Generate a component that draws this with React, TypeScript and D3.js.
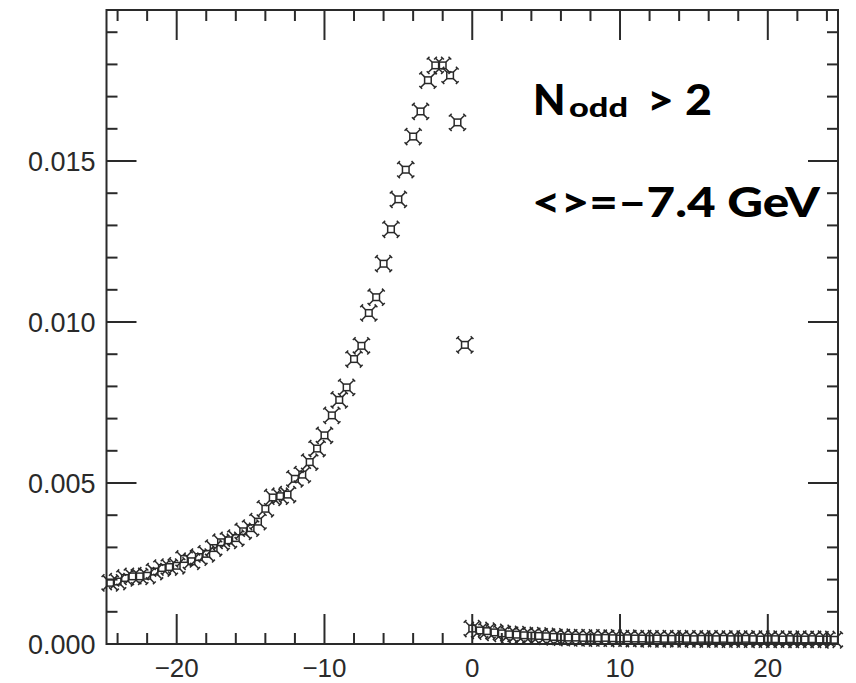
import React from "react";
import * as d3 from "d3";

// bin centres (GeV) and contents
const xLeft = [
  -24.5, -24, -23.5, -23, -22.5, -22, -21.5, -21, -20.5, -20,
  -19.5, -19, -18.5, -18, -17.5, -17, -16.5, -16, -15.5, -15,
  -14.5, -14, -13.5, -13, -12.5, -12, -11.5, -11, -10.5, -10,
  -9.5, -9, -8.5, -8, -7.5, -7, -6.5, -6, -5.5, -5,
  -4.5, -4, -3.5, -3, -2.5, -2, -1.5, -1, -0.5,
];
const yLeft = [
  0.0019, 0.00194, 0.00205, 0.0021, 0.0021, 0.00212, 0.00225, 0.00236, 0.00239, 0.00243,
  0.00264, 0.00257, 0.0027, 0.0028, 0.00298, 0.00316, 0.00322, 0.00329, 0.0035, 0.0036,
  0.0038, 0.0042, 0.00455, 0.00459, 0.00464, 0.00513, 0.00526, 0.00565, 0.00607, 0.00648,
  0.0071, 0.00758, 0.00797, 0.00885, 0.00926, 0.01028, 0.01077, 0.01181, 0.01288, 0.01381,
  0.01473, 0.01576, 0.01654, 0.01751, 0.01797, 0.01797, 0.01766, 0.0162, 0.00929,
];
const xRight = [
  0, 0.5, 1, 1.5, 2, 2.5, 3, 3.5, 4, 4.5, 5, 5.5, 6, 6.5, 7, 7.5, 8, 8.5, 9, 9.5,
  10, 10.5, 11, 11.5, 12, 12.5, 13, 13.5, 14, 14.5, 15, 15.5, 16, 16.5, 17, 17.5,
  18, 18.5, 19, 19.5, 20, 20.5, 21, 21.5, 22, 22.5, 23, 23.5, 24, 24.5,
];
const yRight = [
  0.00048, 0.00042, 0.0004, 0.00036, 0.00033, 0.0003, 0.00029, 0.00027, 0.00026, 0.00025,
  0.00024, 0.00022, 0.00021, 0.0002, 0.0002, 0.00019, 0.00019, 0.00018, 0.00019, 0.00018,
  0.00017, 0.00018, 0.00017, 0.00017, 0.00016, 0.00017, 0.00016, 0.00016, 0.00017, 0.00016,
  0.00015, 0.00016, 0.00016, 0.00015, 0.00016, 0.00015, 0.00015, 0.00016, 0.00015, 0.00014,
  0.00015, 0.00015, 0.00014, 0.00015, 0.00014, 0.00014, 0.00015, 0.00014, 0.00014, 0.00013,
];

const xMajor = [-20, -10, 0, 10, 20];
const xMinor = d3.range(-24, 25, 2).filter((v) => v % 10 !== 0);
const yMajor = [0, 0.005, 0.01, 0.015];
const yMinor = d3.range(1, 20).filter((v) => v % 5 !== 0).map((v) => v / 1000);

const W = 856;
const H = 683;
const margin = { top: 10, right: 18, bottom: 39, left: 106.5 };

export default function App() {
  const w = W - margin.left - margin.right;
  const h = H - margin.top - margin.bottom;
  const x = d3.scaleLinear().domain([-24.75, 24.75]).range([0, w]);
  const y = d3.scaleLinear().domain([0, 0.01969]).range([h, 0]);
  const fmt = d3.format(".3f");
  const ink = "#2a2a2a";

  const points = xLeft
    .map((v, i) => [v, yLeft[i]])
    .concat(xRight.map((v, i) => [v, yRight[i]]));

  const marker = (px: number, py: number, i: number) => {
    const s = 3.3, e = 7.2, c = 1.4;
    const spikes = [[1, 1], [1, -1], [-1, 1], [-1, -1]];
    return (
      <g key={i} transform={`translate(${px},${py})`} stroke={ink} strokeWidth={1.5} fill="none">
        <rect x={-s} y={-s} width={2 * s} height={2 * s} />
        {spikes.map(([a, b], j) => (
          <g key={j}>
            <line x1={a * s} y1={b * s} x2={a * e} y2={b * e} />
            <line x1={a * e - c * a} y1={b * e + c * b} x2={a * e + c * a} y2={b * e - c * b} />
          </g>
        ))}
      </g>
    );
  };

  return (
    <svg width={W} height={H} style={{ position: "absolute", left: 0, top: 0, background: "#fff" }}>
      <g transform={`translate(${margin.left},${margin.top})`}>
        {/* ticks on all four sides, pointing inward */}
        {xMajor.map((v) => (
          <g key={"xM" + v} stroke={ink} strokeWidth={2}>
            <line x1={x(v)} x2={x(v)} y1={h} y2={h - 30} />
            <line x1={x(v)} x2={x(v)} y1={0} y2={30} />
          </g>
        ))}
        {xMinor.map((v) => (
          <g key={"xm" + v} stroke={ink} strokeWidth={2}>
            <line x1={x(v)} x2={x(v)} y1={h} y2={h - 11} />
            <line x1={x(v)} x2={x(v)} y1={0} y2={11} />
          </g>
        ))}
        {yMajor.map((v) => (
          <g key={"yM" + v} stroke={ink} strokeWidth={2}>
            <line x1={0} x2={30} y1={y(v)} y2={y(v)} />
            <line x1={w} x2={w - 30} y1={y(v)} y2={y(v)} />
          </g>
        ))}
        {yMinor.map((v) => (
          <g key={"ym" + v} stroke={ink} strokeWidth={2}>
            <line x1={0} x2={11} y1={y(v)} y2={y(v)} />
            <line x1={w} x2={w - 11} y1={y(v)} y2={y(v)} />
          </g>
        ))}
        <rect x={0} y={0} width={w} height={h} fill="none" stroke={ink} strokeWidth={2} />

        {/* tick labels */}
        {yMajor.map((v) => (
          <text key={"yl" + v} x={-11} y={y(v)} dy="0.36em" textAnchor="end"
            fontFamily="Liberation Sans" fontSize={27} fill={ink}>
            {fmt(v)}
          </text>
        ))}
        {xMajor.map((v) => (
          <text key={"xl" + v} x={x(v)} y={h + 33} textAnchor="middle"
            fontFamily="Liberation Sans" fontSize={26} fill={ink}>
            {v < 0 ? "\u2212" + Math.abs(v) : String(v)}
          </text>
        ))}

        {points.map((d, i) => marker(x(d[0]), y(d[1]), i))}
      </g>

      {/* annotations */}
      <text x={533} y={115} fontFamily="Lato" fontWeight={900} fontSize={42} fill="#000">
        <tspan>N</tspan>
        <tspan x={569} dy={2} fontSize={27} textLength={59} lengthAdjust="spacingAndGlyphs">odd</tspan>
        <tspan x={647} dy={-2} textLength={65} lengthAdjust="spacingAndGlyphs">{"> 2"}</tspan>
      </text>
      <text x={532} y={217} fontFamily="Lato" fontWeight={900} fontSize={41} fill="#000"
        textLength={288} lengthAdjust="spacingAndGlyphs">
        {"<>=\u20137.4 GeV"}
      </text>
    </svg>
  );
}
